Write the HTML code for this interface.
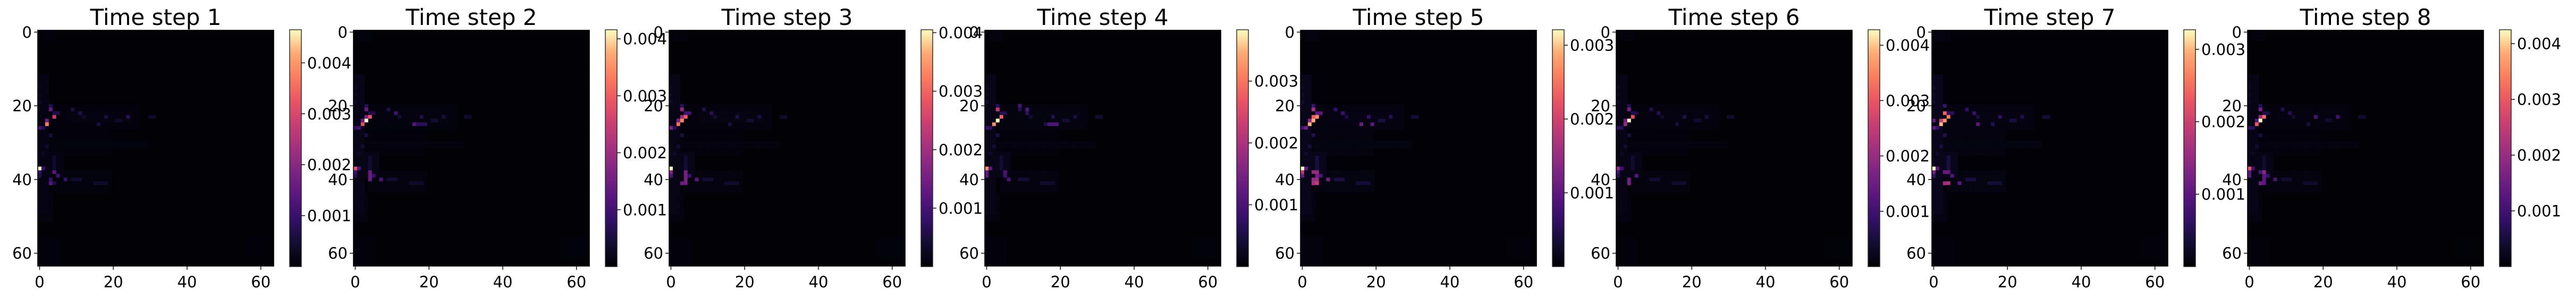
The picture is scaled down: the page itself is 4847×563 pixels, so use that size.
<!DOCTYPE html>
<html><head><meta charset="utf-8">
<style>
html,body{margin:0;padding:0;background:#fff;}
svg{display:block;font-family:"DejaVu Sans","Liberation Sans",sans-serif;}
</style></head>
<body>
<svg id="fig" xmlns="http://www.w3.org/2000/svg" width="4847" height="563" viewBox="0 0 4847 563"></svg>
<script>
// ---- data (values in units of 1e-3) ----
const panelTitles = ["Time step 1","Time step 2","Time step 3","Time step 4","Time step 5","Time step 6","Time step 7","Time step 8"];
const panelMax = [4.65, 4.16, 4.05, 3.83, 3.21, 4.28, 3.27, 4.25];
const cbarTicks = [[1,2,3,4],[1,2,3,4],[1,2,3,4],[1,2,3],[1,2,3],[1,2,3,4],[1,2,3],[1,2,3,4]];
const axisTicks = [0,20,40,60];
const baseValue = 0.02;
// shared low-level background regions: [rowStart,rowEnd,colStart,colEnd,value]
const bgRegions = [
  [0,3,1,5,0.08],[12,50,0,3,0.16],[20,27,3,28,0.08],[22,25,8,26,0.11],
  [27,34,0,20,0.07],[30,32,0,30,0.09],[33,40,0,7,0.16],[38,44,4,20,0.09],
  [44,52,0,4,0.1],[56,64,0,6,0.06],[56,62,56,63,0.05]
];
// shared mid-level cells: [row,col,value]
const commonCells = [
  [20,3,0.7],[21,9,0.6],[22,4,0.6],[22,5,0.6],[22,11,0.7],[23,12,0.4],[23,18,0.6],
  [23,24,0.5],[24,21,0.4],[24,22,0.4],[23,30,0.35],[23,31,0.35],[26,1,0.7],[26,0,0.8],
  [39,0,0.7],[39,5,0.9],[40,9,0.4],[40,10,0.4],[40,11,0.4],[41,15,0.35],[41,16,0.35],
  [41,17,0.35],[41,18,0.35],[34,4,0.4],[35,4,0.4],[36,4,0.4],[37,4,0.4],[15,0,0.25],
  [17,0,0.25],[19,0,0.3],[25,16,0.5],[28,3,0.5],[31,2,0.4],[33,1,0.3]
];
// per-panel highlight cells: [row,col,value]
const cells1 = [[37,0,4.65],[25,2,3.7],[23,4,2.8],[24,2,1.7],[21,3,1.5],[26,0,1.1],[37,1,1.0],[38,0,0.9],[38,4,1.4],[39,5,1.1],[40,3,0.9],[41,3,1.3],[41,4,0.6],[40,7,1.0],[23,24,0.8],[25,16,0.6]];
const cells2 = [[24,3,4.16],[23,4,2.9],[25,2,2.8],[23,3,1.6],[24,2,1.4],[21,3,1.4],[26,1,1.0],[37,0,2.8],[37,1,1.1],[38,0,0.9],[38,4,1.4],[39,4,1.4],[40,4,1.4],[40,7,1.1],[25,16,1.2],[25,17,0.7],[25,18,0.7],[25,19,0.7],[22,11,1.0]];
const cells3 = [[37,0,4.05],[24,3,3.3],[25,2,3.1],[23,4,2.9],[23,3,1.9],[24,2,1.6],[21,3,1.8],[26,0,1.6],[38,0,1.7],[39,0,1.1],[38,4,1.5],[39,4,1.5],[40,4,1.5],[41,4,1.5],[41,3,1.4],[40,7,1.2],[22,4,1.0],[22,5,1.0]];
const cells4 = [[24,3,3.83],[25,2,3.2],[23,4,2.8],[21,3,2.2],[37,0,3.2],[37,1,1.2],[38,0,1.2],[39,0,1.2],[38,5,1.0],[40,6,1.0],[21,11,1.0],[20,9,0.9],[25,17,1.0],[25,18,1.0],[25,19,1.0]];
const cells5 = [[23,3,2.3],[23,4,2.7],[24,2,1.4],[24,3,2.9],[25,2,2.9],[21,3,1.6],[22,4,1.0],[22,5,1.0],[26,1,1.2],[26,0,0.8],[37,0,3.21],[37,1,1.1],[38,0,1.8],[38,3,1.5],[38,4,1.5],[39,0,1.1],[39,4,1.2],[40,7,1.2],[40,3,1.5],[40,4,1.5],[41,3,1.6],[41,4,1.9],[25,16,1.1],[25,19,1.0]];
const cells6 = [[24,3,4.28],[23,4,2.9],[25,2,2.0],[24,2,1.5],[21,3,1.6],[37,0,2.0],[37,1,1.0],[40,3,1.6],[41,3,1.6],[39,5,1.2],[38,0,1.0]];
const cells7 = [[37,0,3.27],[25,2,3.0],[24,3,2.8],[23,4,2.6],[22,3,2.4],[24,2,1.9],[24,0,1.1],[26,0,1.0],[41,4,1.7],[41,3,1.6],[37,1,1.0],[38,0,1.2],[38,3,1.1],[38,4,1.1],[41,7,1.0],[25,12,1.0]];
const cells8 = [[24,3,4.25],[23,4,3.2],[25,2,3.0],[23,3,2.0],[24,2,1.2],[21,3,1.6],[37,0,3.0],[37,1,1.0],[38,0,1.3],[39,0,1.3],[38,4,1.8],[38,3,1.1],[39,4,1.3],[40,4,1.3],[41,4,1.3],[41,3,1.5],[40,7,1.1],[23,18,1.1],[23,24,1.0]];
const panelCells = [cells1,cells2,cells3,cells4,cells5,cells6,cells7,cells8];

// ---- colormap (magma) ----
const magma = ["#000004","#120d32","#331068","#5a167e","#7d2482","#a3307e","#c83e73","#e95462","#fa7d5e","#fea973","#fcfdbf"];
function hex2rgb(h){return [parseInt(h.substr(1,2),16),parseInt(h.substr(3,2),16),parseInt(h.substr(5,2),16)];}
const magmaRGB = magma.map(hex2rgb);
function cmap(t){
  t=Math.max(0,Math.min(1,t));
  const p=t*10, i=Math.min(9,Math.floor(p)), f=p-i;
  const a=magmaRGB[i], b=magmaRGB[i+1];
  return "rgb("+a.map((v,k)=>Math.round(v+(b[k]-v)*f)).join(",")+")";
}

// ---- layout ----
const NS="http://www.w3.org/2000/svg";
const svg=document.getElementById("fig");
const N=64, SIZE=444, TOP=57, LEFT0=71, STEP=594;
const CB_DX=474, CB_W=22, CB_TOP=56, CB_BOT=502;
function mk(tag,attrs,parent){const e=document.createElementNS(NS,tag);for(const k in attrs)e.setAttribute(k,attrs[k]);(parent||svg).appendChild(e);return e;}

panelTitles.forEach((title,p)=>{
  const L=LEFT0+p*STEP, vmax=panelMax[p];
  const g=mk("g",{});
  
  
  const cs=SIZE/N;
  const xScale=c=>L+c*cs, yScale=r=>TOP+r*cs;
  const grid=[];for(let r=0;r<N;r++){grid.push(new Array(N).fill(baseValue));}
  bgRegions.forEach(([r0,r1,c0,c1,v])=>{for(let r=r0;r<r1;r++)for(let c=c0;c<c1;c++)grid[r][c]=Math.max(grid[r][c],v);});
  commonCells.forEach(([r,c,v])=>{grid[r][c]=Math.max(grid[r][c],v);});
  panelCells[p].forEach(([r,c,v])=>{grid[r][c]=v;});
  const bg=mk("rect",{x:L,y:TOP,width:SIZE,height:SIZE,fill:cmap(baseValue/vmax)},g);
  
  
  for(let r=0;r<N;r++)for(let c=0;c<N;c++){
    const v=grid[r][c]; if(v===baseValue)continue;
    const x0=xScale(c), y0=yScale(r);
    const cell=mk("rect",{x:x0.toFixed(2),y:y0.toFixed(2),width:(cs+0.4).toFixed(2),height:(cs+0.4).toFixed(2),fill:cmap(v/vmax)},g);
    
    
  }
  mk("rect",{x:L,y:TOP,width:SIZE,height:SIZE,fill:"none",stroke:"#000","stroke-width":1.6},g);
  const t=mk("text",{x:L+SIZE/2,y:47,"font-size":42,"text-anchor":"middle",fill:"#000"},g);
  t.textContent=title;
  
  
  axisTicks.forEach(tv=>{
    const x=xScale(tv+0.5);
    mk("line",{x1:x,x2:x,y1:TOP+SIZE,y2:TOP+SIZE+7,stroke:"#000","stroke-width":1.4},g);
    const xl=mk("text",{x:x,y:541,"font-size":29,"text-anchor":"middle",fill:"#000"},g);
    xl.textContent=tv;
    
    
    const y=yScale(tv+0.5);
    mk("line",{x1:L,x2:L-7,y1:y,y2:y,stroke:"#000","stroke-width":1.4},g);
    const yl=mk("text",{x:L-11,y:y+10.5,"font-size":29,"text-anchor":"end",fill:"#000"},g);
    yl.textContent=tv;
    
    
  });
  const cbx=L+CB_DX;
  const gid="cbgrad"+p;
  const defs=mk("defs",{},g);
  const lg=mk("linearGradient",{id:gid,x1:0,y1:1,x2:0,y2:0},defs);
  magma.forEach((c,i)=>mk("stop",{offset:(i/10),"stop-color":c},lg));
  const cb=mk("rect",{x:cbx,y:CB_TOP,width:CB_W,height:CB_BOT-CB_TOP,fill:"url(#"+gid+")",stroke:"#222","stroke-width":1.4},g);
  
  
  const cbScale=v=>CB_BOT-(v/vmax)*(CB_BOT-CB_TOP);
  cbarTicks[p].forEach(tv=>{
    const y=cbScale(tv);
    mk("line",{x1:cbx+CB_W,x2:cbx+CB_W+7,y1:y,y2:y,stroke:"#000","stroke-width":1.4},g);
    const cl=mk("text",{x:cbx+CB_W+11,y:y+10.5,"font-size":29,fill:"#000"},g);
    cl.textContent=(tv/1000).toFixed(3);
    
    
  });
});
</script>
</body></html>
